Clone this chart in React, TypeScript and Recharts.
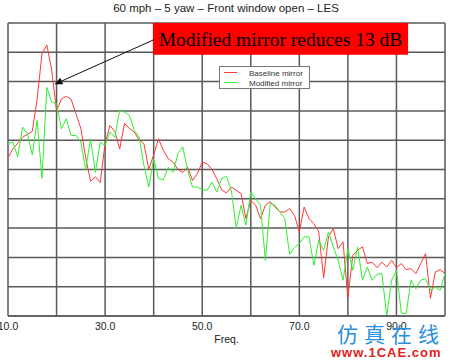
import React from "react";
import { LineChart, Line, XAxis, YAxis, CartesianGrid, ReferenceArea, ReferenceLine, Label, Legend } from "recharts";

const freq = [
  10, 11, 12, 13, 14, 15, 16, 17, 18, 19, 20, 21, 22, 23, 24, 25, 26, 27, 28, 29,
  30, 31, 32, 33, 34, 35, 36, 37, 38, 39, 40, 41, 42, 43, 44, 45, 46, 47, 48, 49,
  50, 51, 52, 53, 54, 55, 56, 57, 58, 59, 60, 61, 62, 63, 64, 65, 66, 67, 68, 69,
  70, 71, 72, 73, 74, 75, 76, 77, 78, 79, 80, 81, 82, 83, 84, 85, 86, 87, 88, 89,
  90, 91, 92, 93, 94, 95, 96, 97, 98, 99, 100,
];

const baseline = [
  5.4, 5.7, 5.9, 6.1, 6.2, 6.3, 7.4, 8.95, 9.25, 8.4, 7.0, 7.4, 7.5, 7.4, 6.9, 6.4, 5.4, 4.6, 4.75, 4.55,
  5.9, 6.5, 6.3, 5.7, 6.57, 6.4, 6.28, 6.0, 5.88, 5.0, 5.5, 6.05, 5.65, 5.37, 5.25, 5.0, 4.9, 5.08, 4.63, 4.86,
  5.25, 5.2, 5.0, 4.69, 4.3, 4.2, 4.4, 4.29, 4.18, 3.32, 3.95, 3.78, 3.32, 3.78, 3.9, 3.72, 3.55, 3.55, 3.67, 3.44,
  2.87, 3.72, 3.32, 3.15, 2.87, 1.3, 2.7, 2.98, 2.3, 2.53, 0.6, 2.07, 2.24, 2.36, 1.79, 1.84, 1.65, 1.84, 1.67, 1.9,
  1.65, 1.79, 1.58, 1.62, 1.45, 1.79, 2.13, 0.6, 1.5, 1.58, 1.45,
];

const modified = [
  5.88, 5.94, 5.43, 6.45, 6.22, 5.5, 6.68, 4.7, 7.8, 7.3, 7.25, 6.39, 6.73, 6.16, 6.16, 5.94, 5.0, 6.05, 4.9, 5.94,
  5.82, 6.28, 6.1, 7.02, 6.96, 6.85, 6.34, 6.11, 5.14, 4.4, 5.37, 4.69, 4.65, 5.08, 4.9, 5.54, 5.77, 4.97, 4.4, 4.4,
  4.31, 4.29, 4.57, 4.23, 4.69, 4.77, 4.29, 3.0, 3.78, 3.1, 4.23, 4.0, 3.78, 1.9, 3.84, 3.78, 3.55, 3.32, 2.1, 2.35,
  2.47, 2.7, 2.7, 1.73, 2.59, 2.24, 2.87, 2.35, 1.9, 1.22, 2.3, 1.56, 2.35, 1.22, 1.67, 1.22, 1.42, 1.45, 0, 1.22,
  1.56, 0.1, 0.08, 1.22, 0.93, 1.22, 1.28, 0.88, 0.99, 0.88, 1.45,
];

const xTicks = [10, 20, 30, 40, 50, 60, 70, 80, 90, 100];
const xLabels = [10, 30, 50, 70, 90];
const yTicks = [0, 1, 2, 3, 4, 5, 6, 7, 8, 9, 10];

const rows = freq.map((f, i) => ({ freq: f, baseline: baseline[i], modified: modified[i] }));

const SANS = "'Liberation Sans', Arial, sans-serif";

function FreqTick(props: any) {
  const { x, y, payload } = props;
  if (!xLabels.includes(payload.value)) return <g />;
  return (
    <text x={x} y={y + 6} textAnchor="middle" fontSize={10.5} fill="#222" fontFamily={SANS}>
      {Number(payload.value).toFixed(1)}
    </text>
  );
}

function Arrow(props: any) {
  const { x1, y1, x2, y2 } = props;
  const a = Math.atan2(y2 - y1, x2 - x1);
  const len = 8;
  const w = 3.5;
  const bx = x2 - len * Math.cos(a);
  const by = y2 - len * Math.sin(a);
  const pts = [
    `${x2},${y2}`,
    `${bx + w * Math.sin(a)},${by - w * Math.cos(a)}`,
    `${bx - w * Math.sin(a)},${by + w * Math.cos(a)}`,
  ].join(" ");
  return (
    <g>
      <line x1={x1} y1={y1} x2={bx} y2={by} stroke="#111" strokeWidth={1} />
      <polygon points={pts} fill="#111" />
    </g>
  );
}

function LegendBox(props: any) {
  const items = props.payload || [];
  return (
    <svg width={91} height={23} style={{ display: "block" }}>
      <rect x={0.5} y={0.5} width={90} height={22} fill="#fff" stroke="#777" />
      {items.map((p: any, i: number) => (
        <g key={i}>
          <line x1={5} x2={18} y1={6.5 + i * 10} y2={6.5 + i * 10} stroke={p.color} strokeWidth={1} />
          <text x={30} y={9.5 + i * 10} fontSize={8} fill="#333" fontFamily={SANS}>
            {p.value}
          </text>
        </g>
      ))}
    </svg>
  );
}

export default function App() {
  return (
    <div style={{ position: "absolute", left: 0, top: 0, width: 450, height: 360, background: "#fff" }}>
      <div
        style={{
          position: "absolute",
          left: 1,
          top: 2,
          width: 450,
          textAlign: "center",
          fontFamily: SANS,
          fontSize: 11.5,
          color: "#222",
        }}
      >
        60 mph – 5 yaw – Front window open – LES
      </div>
      <LineChart width={450} height={360} data={rows} margin={{ top: 23, right: 5, bottom: 0, left: 8 }}>
        <CartesianGrid stroke="#5a5a5a" strokeWidth={1.5} />
        <XAxis
          dataKey="freq"
          type="number"
          domain={[10, 100]}
          ticks={xTicks}
          tick={<FreqTick />}
          tickLine={false}
          axisLine={{ stroke: "#5a5a5a", strokeWidth: 1.5 }}
          height={44}
          interval={0}
        >
          <Label value="Freq." position="insideBottom" offset={17} fontSize={10.5} fill="#222" fontFamily={SANS} />
        </XAxis>
        <YAxis type="number" domain={[0, 10]} ticks={yTicks} hide />
        <ReferenceArea x1={39.85} x2={92.4} y1={8.92} y2={10} fill="#ff0000" fillOpacity={1} stroke="none" ifOverflow="visible">
          <Label
            value="Modified mirror reduces 13 dB"
            position="center"
            fontSize={19.5}
            fill="#000"
            fontFamily="'Liberation Serif', 'Times New Roman', serif"
          />
        </ReferenceArea>
        <Line type="linear" dataKey="baseline" name="Baseline mirror" stroke="#ff3838" strokeWidth={1} dot={false} isAnimationActive={false} />
        <Line type="linear" dataKey="modified" name="Modified mirror" stroke="#30f030" strokeWidth={1} dot={false} isAnimationActive={false} />
        <ReferenceLine
          segment={[{ x: 40.06, y: 9.43 }, { x: 19.57, y: 7.91 }]}
          stroke="#111"
          shape={<Arrow />}
        />
        <Legend
          layout="horizontal"
          verticalAlign="middle"
          align="center"
          content={<LegendBox />}
          wrapperStyle={{ left: 219, top: 66, width: 91, height: 23 }}
        />
      </LineChart>
      <div
        style={{
          position: "absolute",
          left: 337,
          top: 318,
          fontFamily: "'Noto Sans CJK SC', sans-serif",
          fontSize: 21,
          letterSpacing: 6,
          color: "#2a8fdc",
          whiteSpace: "nowrap",
        }}
      >
        仿真在线
      </div>
      <div
        style={{
          position: "absolute",
          left: 331,
          top: 345,
          fontFamily: SANS,
          fontSize: 13,
          fontWeight: "bold",
          letterSpacing: 1,
          color: "#e02020",
          whiteSpace: "nowrap",
        }}
      >
        www.1CAE.com
      </div>
    </div>
  );
}
